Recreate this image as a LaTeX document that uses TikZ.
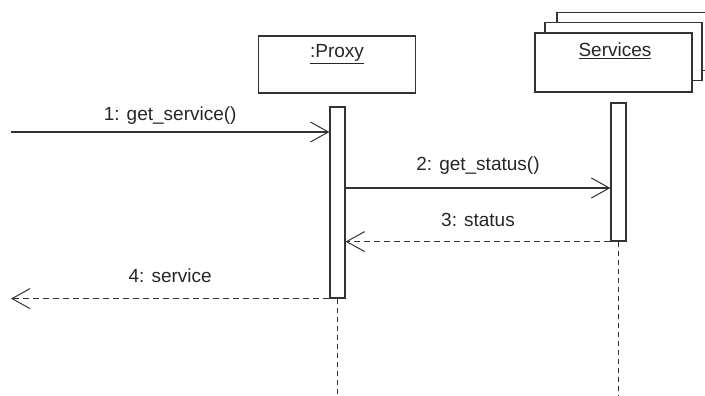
\documentclass[tikz,border=0pt]{standalone}
\usepackage{fontspec}
\setmainfont{Liberation Sans}
\usepackage{tikz}
\usetikzlibrary{positioning, arrows.meta}
\tikzset{
    objbox/.style={draw=black!80, fill=white, line width=1.2pt,
        minimum width=157pt, minimum height=58pt, inner sep=0pt},
    actbar/.style={draw=black!80, fill=white, line width=1.2pt,
        minimum width=15pt, inner sep=0pt},
    lifeline/.style={draw=black!80, line width=1.2pt, dash pattern=on 5pt off 4pt},
    call/.style={
        draw=black!80,
        line width=1.1pt,
        -{Straight Barb[length=18pt, width=20pt, line width=1pt]}
    },
    reply/.style={call, dash pattern=on 6pt off 4pt},
    msg/.style={font=\fontsize{19}{22}\selectfont, text=black!85,
        inner sep=0pt, text depth=0pt}
}

\begin{document}
\begin{tikzpicture}[x=1pt, y=-1pt]
	\clip (0,0) rectangle (705,396);
	\useasboundingbox (0,0) rectangle (705,396);
	% objects
	\node[objbox, minimum height=57pt,
	      label={[msg, name=proxylbl, anchor=north, yshift=-9pt]north:\underline{:Proxy}}]
	      at (337,64.5) (proxy) {};
	\node[objbox] at (635.5,41.5) (svc3) {};
	\node[objbox] at (623.5,51.5) (svc2) {};
	\node[objbox, minimum height=59pt,
	      label={[msg, name=svclbl, anchor=north, yshift=-10pt, xshift=1.5pt]north:\underline{Services}}]
	      at (613.5,62.5) (svc) {};
	% activations
	\node[actbar, minimum height=191pt] at (337.5,202.5) (pbar) {};
	\node[actbar, minimum height=138pt] at (618.5,172) (sbar) {};
	\coordinate (pend) at (337.5,396);
	\coordinate (send) at (618.5,396);
	\draw[lifeline] (pbar.south) -- (pend);
	\draw[lifeline] (sbar.south) -- (send);
	% messages
	\coordinate (caller) at (11,132);
	\draw[call] (caller) -- (caller -| pbar.west)
		node[msg, midway, above=11pt] (m1) {1: get\_service()};
	\draw[call] (pbar.east |- 0,188) -- (sbar.west |- 0,188)
		node[msg, midway, above=17pt] (m2) {2: get\_status()};
	\draw[reply] (sbar.south west) -- (sbar.south west -| pbar.east)
		node[msg, midway, above=15pt] (m3) {3: status};
	\draw[reply] (pbar.south west) -- (pbar.south west -| caller)
		node[msg, midway, above=16pt] (m4) {4: service};
\end{tikzpicture}
\end{document}
